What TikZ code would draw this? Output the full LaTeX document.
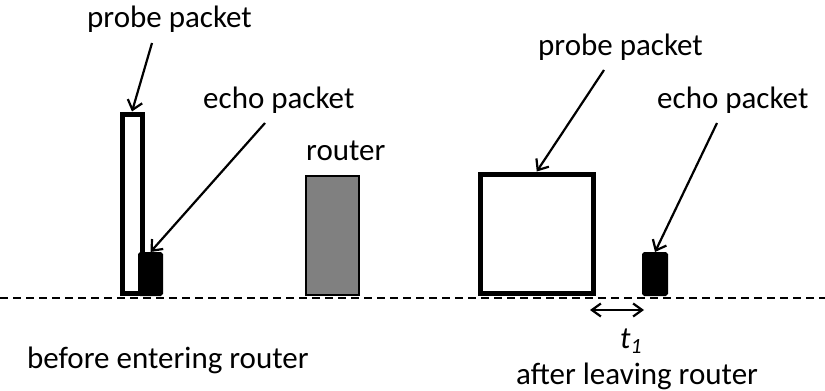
\documentclass[tikz,border=0pt]{standalone}
\usepackage{fontspec}
\setmainfont{Carlito}
\usetikzlibrary{arrows.meta}
\begin{document}
\begin{tikzpicture}[x=1pt,y=-1pt,
  lbl/.style={anchor=base west,inner sep=0pt,font=\fontsize{31}{36}\selectfont},
  thickbox/.style={draw=black,line width=5pt,fill=white,inner sep=0pt,anchor=south west},
  echobox/.style={draw=black,line width=2pt,fill=black,rounded corners=1.5pt,inner sep=0pt,anchor=south west},
  routerbox/.style={draw=black,line width=2pt,fill={rgb,255:red,128;green,128;blue,128},inner sep=0pt,anchor=south west},
  arr/.style={line width=2.2pt,-{Straight Barb[length=9pt,width=15pt,line width=2.2pt]}},
  darr/.style={line width=2.2pt,{Straight Barb[length=9pt,width=13pt,line width=2.2pt]}-{Straight Barb[length=9pt,width=13pt,line width=2.2pt]}},
  baseline/.style={line width=2pt,dash pattern=on 8pt off 5pt}]
\useasboundingbox (0,0) rectangle (825,391);
% baseline
\coordinate (b0) at (0,297.5);
\coordinate (b1) at (825,297.5);
\draw[baseline] (b0) -- (b1);
% packets and router
\node[thickbox,minimum width=20pt,minimum height=179pt] (pL) at (119.5,295.5) {};
\node[echobox,minimum width=23pt,minimum height=42pt] (eL) at (138,296) {};
\node[routerbox,minimum width=53pt,minimum height=119pt] (rt) at (305,296) {};
\node[thickbox,minimum width=112.5pt,minimum height=119pt] (pR) at (478,295.5) {};
\node[echobox,minimum width=24pt,minimum height=42pt] (eR) at (642,296) {};
% labels
\node[lbl] (tpL) at (87,27) {probe packet};
\node[lbl] (teL) at (203,108) {echo packet};
\node[lbl] (trt) at (306,160) {router};
\node[lbl] (tpR) at (538,55) {probe packet};
\node[lbl] (teR) at (657,108) {echo packet};
\node[lbl] (tbf) at (27,368) {before entering router};
\node[lbl] (taf) at (516,384) {after leaving router};
\node[lbl] (tt) at (620,348) {\textit{t}\textsubscript{\textit{1}}};
% arrows
\coordinate (apL) at (152,43);
\coordinate (aeL) at (265,123);
\coordinate (apR) at (604,70);
\coordinate (aeR) at (717,123);
\draw[arr] (apL) -- (pL.north);
\draw[arr] (aeL) -- (eL.north);
\draw[arr] (apR) -- (pR.north);
\draw[arr] (aeR) -- (eR.north);
\coordinate (ta) at (590,310);
\coordinate (tb) at (644,310);
\draw[darr] (ta) -- (tb);
\end{tikzpicture}
\end{document}
